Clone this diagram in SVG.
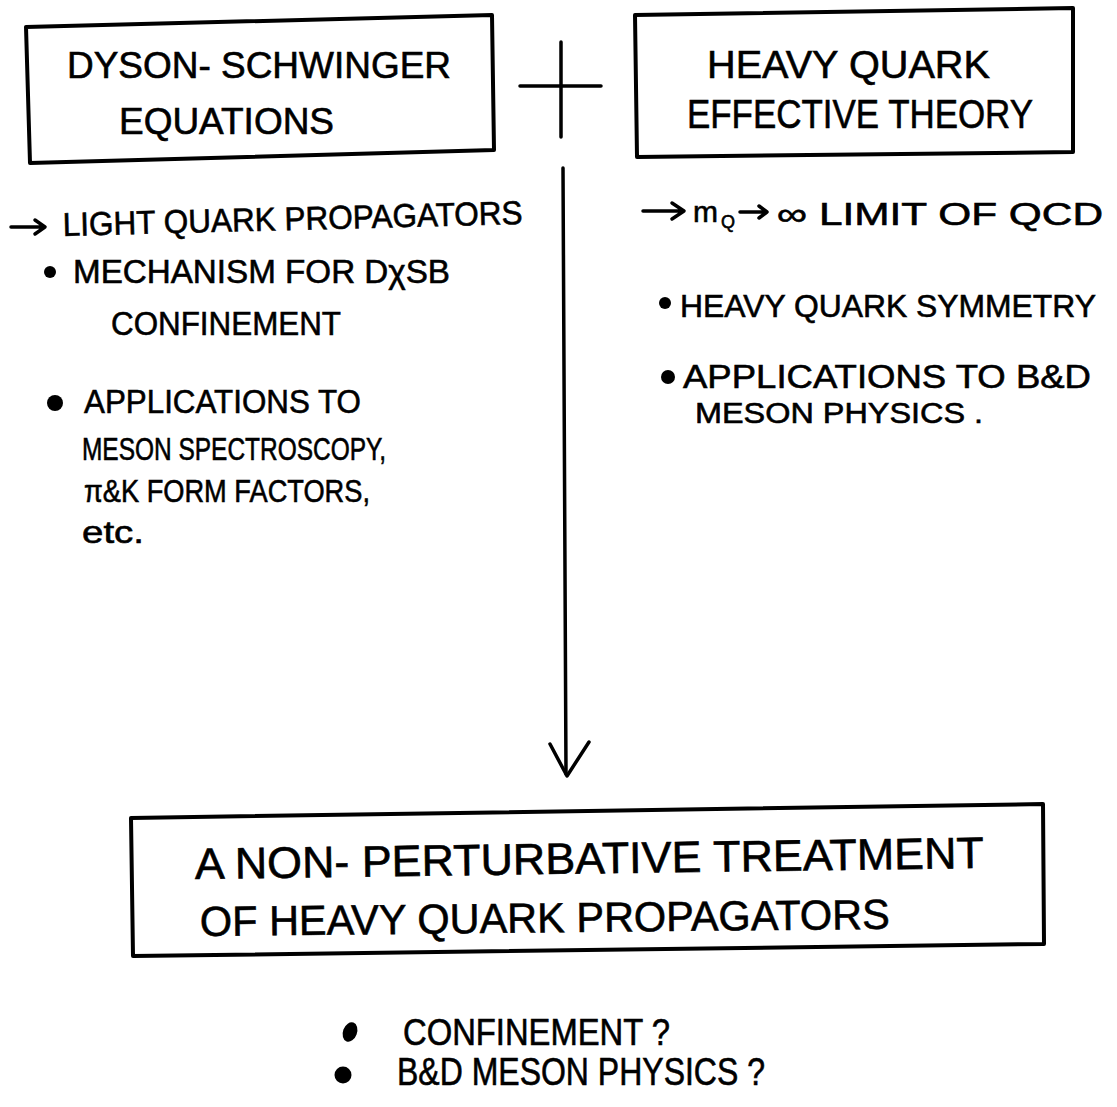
<svg xmlns="http://www.w3.org/2000/svg" width="1117" height="1107" viewBox="0 0 1117 1107">
<style>
.t{font-family:"Liberation Sans",Arial,sans-serif;fill:#000;stroke:#000;stroke-width:0.6;}
.box{fill:none;stroke:#000;stroke-width:4;stroke-linejoin:round;}
.ln{fill:none;stroke:#000;stroke-width:3.5;stroke-linecap:round;stroke-linejoin:round;}
.dot{fill:#000;}
</style>
<rect width="1117" height="1107" fill="#fff"/>
<g id="node-dse">
<polygon class="box" points="26,27 492,15 494,150 30,163"/>
<text class="t" x="67" y="78" font-size="36" textLength="384" lengthAdjust="spacingAndGlyphs">DYSON- SCHWINGER</text>
<text class="t" x="119" y="134" font-size="36" textLength="215" lengthAdjust="spacingAndGlyphs">EQUATIONS</text>
</g>
<g id="node-hqet">
<polygon class="box" points="635,15 1073,8 1073,152 637,157"/>
<text class="t" x="707" y="78" font-size="38" textLength="283" lengthAdjust="spacingAndGlyphs">HEAVY QUARK</text>
<text class="t" x="687" y="128" font-size="40" textLength="346" lengthAdjust="spacingAndGlyphs">EFFECTIVE THEORY</text>
</g>
<g id="notes-dse">
<path class="ln" d="M11,227 L45,227 M35,220 L45,227 L35,234"/>
<text class="t" x="63" y="236" font-size="33" textLength="460" lengthAdjust="spacingAndGlyphs" transform="rotate(-1.5 63 236)">LIGHT QUARK PROPAGATORS</text>
<circle class="dot" cx="50" cy="272" r="6"/>
<text class="t" x="73" y="283" font-size="34" textLength="377" lengthAdjust="spacingAndGlyphs">MECHANISM FOR DχSB</text>
<text class="t" x="111" y="335" font-size="34" textLength="230" lengthAdjust="spacingAndGlyphs">CONFINEMENT</text>
<circle class="dot" cx="55" cy="403" r="8"/>
<text class="t" x="84" y="413" font-size="34" textLength="277" lengthAdjust="spacingAndGlyphs">APPLICATIONS TO</text>
<text class="t" x="82" y="460" font-size="32" textLength="304" lengthAdjust="spacingAndGlyphs">MESON SPECTROSCOPY,</text>
<text class="t" x="84" y="502" font-size="32" textLength="286" lengthAdjust="spacingAndGlyphs">π&amp;K FORM FACTORS,</text>
<text class="t" x="82" y="543" font-size="32" textLength="62" lengthAdjust="spacingAndGlyphs">etc.</text>
</g>
<g id="notes-hqet">
<path class="ln" stroke-width="5" d="M643,211 L684,211 M672,203 L684,211 L672,219"/>
<text class="t" x="693" y="222" font-size="30">m</text>
<text class="t" x="721" y="228" font-size="18">Q</text>
<path class="ln" stroke-width="3" d="M740,212 L767,212 M759,206 L767,212 L759,218"/>
<text class="t" x="777" y="225" font-size="32" textLength="326" lengthAdjust="spacingAndGlyphs">∞ LIMIT OF QCD</text>
<circle class="dot" cx="665" cy="303" r="6"/>
<text class="t" x="680" y="317" font-size="32" textLength="416" lengthAdjust="spacingAndGlyphs">HEAVY QUARK SYMMETRY</text>
<circle class="dot" cx="668" cy="377" r="7"/>
<text class="t" x="683" y="388" font-size="33" textLength="408" lengthAdjust="spacingAndGlyphs">APPLICATIONS TO B&amp;D</text>
<text class="t" x="695" y="423" font-size="30" textLength="288" lengthAdjust="spacingAndGlyphs">MESON PHYSICS .</text>
</g>
<g id="connectors">
<path class="ln" d="M561,42 L561,137 M520,86 L601,86"/>
<path class="ln" d="M563,168 L566,774"/>
<path class="ln" d="M550,744 L567,776 L589,742"/>
</g>
<g id="node-result">
<polygon class="box" points="131,818 1043,804 1044,944 133,956"/>
<text class="t" x="195" y="879" font-size="44" textLength="789" lengthAdjust="spacingAndGlyphs" transform="rotate(-0.8 195 879)">A NON- PERTURBATIVE TREATMENT</text>
<text class="t" x="200" y="936" font-size="42" textLength="690" lengthAdjust="spacingAndGlyphs" transform="rotate(-0.6 200 936)">OF HEAVY QUARK PROPAGATORS</text>
</g>
<g id="notes-result">
<ellipse class="dot" cx="350" cy="1032" rx="7" ry="10" transform="rotate(20 350 1032)"/>
<text class="t" x="403" y="1045" font-size="36" textLength="267" lengthAdjust="spacingAndGlyphs">CONFINEMENT ?</text>
<circle class="dot" cx="343" cy="1075" r="8.5"/>
<text class="t" x="397" y="1085" font-size="38" textLength="368" lengthAdjust="spacingAndGlyphs">B&amp;D MESON PHYSICS ?</text>
</g>
</svg>
